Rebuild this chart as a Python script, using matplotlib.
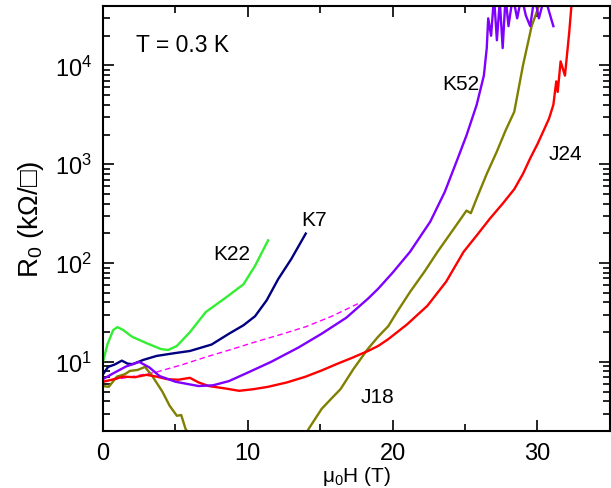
import numpy as np
import matplotlib
matplotlib.use("Agg")
import matplotlib.pyplot as plt
from matplotlib.ticker import LogLocator, MultipleLocator, NullFormatter

plt.rcParams['font.family'] = ['Liberation Sans', 'DejaVu Sans']
plt.rcParams['mathtext.fontset'] = 'custom'
plt.rcParams['mathtext.rm'] = 'Liberation Sans'
plt.rcParams['mathtext.it'] = 'Liberation Sans'

# sample K22 (green)
k22_h = [0.0, 0.3, 0.7, 1.0, 1.4, 2.0, 3.0, 4.0, 4.5, 5.1, 6.0, 7.1, 8.5, 9.7, 10.5, 11.4]
k22_r = [10.0, 15.0, 21.0, 22.5, 21.0, 18.0, 15.5, 13.5, 13.2, 14.5, 20.0, 32.0, 45.0, 61.0, 94.0, 170.0]

# sample K7 (navy)
k7_h = [0.0, 0.35, 0.8, 1.3, 1.7, 2.05, 2.8, 3.7, 5.0, 6.0, 7.5, 8.7, 9.7, 10.5, 11.3, 12.1, 13.0, 14.0]
k7_r = [7.5, 8.9, 9.4, 10.3, 9.6, 9.5, 10.5, 11.5, 12.3, 12.9, 15.0, 19.3, 23.5, 29.0, 42.0, 69.0, 110.0, 199.0]

# sample K52 (violet)
k52_h = [0.0, 0.8, 1.6, 2.5, 3.2, 3.9, 5.0, 6.6, 7.6, 8.7, 10.0, 11.6, 13.5, 15.1, 16.8, 18.3, 19.0,
         20.0, 21.2, 22.6, 23.6, 24.5, 25.1, 25.8, 26.3, 26.5,
         26.6, 26.8, 27.0, 27.2, 27.4, 27.6, 27.8, 28.0, 28.3, 28.6, 28.9, 29.2, 29.5, 29.8, 30.1, 30.5, 31.0, 31.1]
k52_r = [6.7, 7.8, 9.0, 10.0, 8.8, 7.2, 6.3, 5.7, 5.8, 6.4, 7.8, 10.0, 14.0, 19.3, 28.0, 43.7, 55.0,
         80.0, 130.0, 263.0, 525.0, 1150.0, 1960.0, 3980.0, 7900.0, 15000.0,
         30000.0, 20000.0, 50000.0, 18000.0, 45000.0, 15000.0, 50000.0, 25000.0, 50000.0, 30000.0, 50000.0,
         32000.0, 25000.0, 50000.0, 30000.0, 50000.0, 28000.0, 25000.0]

# sample J18 (olive), low-field part
j18a_h = [0.0, 0.4, 0.96, 1.5, 1.85, 2.4, 2.9, 3.4, 4.1, 4.6, 5.1, 5.4, 5.7, 6.0]
j18a_r = [5.7, 5.6, 7.1, 7.5, 8.1, 8.3, 8.9, 7.2, 5.0, 3.6, 2.85, 2.9, 2.1, 1.8]

# sample J18 (olive), high-field part
j18b_h = [14.0, 14.2, 15.1, 15.8, 16.4, 17.3, 18.3, 19.0, 19.7, 20.3, 21.2, 22.2, 23.1, 24.0, 24.7, 25.1,
          25.4, 25.8, 26.5, 27.2, 27.8, 28.4, 29.0, 29.6, 30.1, 30.4]
j18b_r = [1.8, 2.1, 3.35, 4.3, 5.3, 8.5, 13.6, 18.0, 23.0, 32.0, 51.0, 82.0, 130.0, 200.0, 280.0, 340.0,
          320.0, 450.0, 800.0, 1350.0, 2200.0, 3400.0, 10000.0, 25000.0, 40000.0, 50000.0]

# sample J24 (red)
j24_h = [0.0, 0.6, 1.4, 2.2, 3.0, 3.7, 4.4, 5.2, 6.0, 6.6, 7.3, 8.4, 9.4, 10.4, 11.4, 12.7, 14.0, 15.1, 16.2,
         17.2, 18.3, 19.0, 19.7, 21.0, 22.4, 23.7, 24.9, 25.8, 26.7, 27.6, 28.4, 29.0, 29.5, 30.0, 30.4,
         30.8, 31.1, 31.3, 31.4, 31.6, 31.9, 32.2, 32.4]
j24_r = [6.3, 6.6, 7.1, 7.0, 7.4, 7.1, 6.7, 6.6, 6.9, 6.2, 5.7, 5.4, 5.1, 5.3, 5.6, 6.2, 7.1, 8.2, 9.6,
         11.0, 12.9, 14.5, 17.0, 24.0, 37.0, 65.0, 130.0, 190.0, 280.0, 400.0, 560.0, 800.0, 1150.0, 1600.0, 2150.0,
         2900.0, 4000.0, 6900.0, 5400.0, 11000.0, 7900.0, 22000.0, 50000.0]

# dashed guide (magenta)
fit_h = [0.0, 2.0, 3.7, 5.5, 7.1, 8.8, 10.5, 12.3, 14.0, 15.8, 17.6]
fit_r = [6.3, 7.1, 7.9, 9.4, 11.2, 13.3, 15.9, 19.0, 22.7, 29.0, 38.8]

fig = plt.figure(figsize=(6.11, 4.89), dpi=100)
ax = fig.add_axes([0.1686, 0.1166, 0.8295, 0.8691])

lw = 1.7
ax.plot(fit_h, fit_r, color='#ff00ff', lw=1.0, ls=(0, (4, 2.5)))
ax.plot(k22_h, k22_r, color='#33ee33', lw=lw)
ax.plot(k7_h, k7_r, color='#000080', lw=lw)
ax.plot(j18a_h, j18a_r, color='#808000', lw=lw)
ax.plot(j18b_h, j18b_r, color='#808000', lw=lw)
ax.plot(j24_h, j24_r, color='#ff0000', lw=lw)
ax.plot(k52_h, k52_r, color='#8000ff', lw=lw)

ax.set_yscale('log')
ax.set_xlim(0, 35)
ax.set_ylim(2, 4e4)

ax.xaxis.set_major_locator(MultipleLocator(10))
ax.xaxis.set_minor_locator(MultipleLocator(5))
ax.yaxis.set_minor_locator(LogLocator(base=10, subs=np.arange(2, 10), numticks=20))
ax.yaxis.set_minor_formatter(NullFormatter())
ax.set_yticks([10, 100, 1000, 10000])
ax.set_yticklabels([r'$10^1$', r'$10^2$', r'$10^3$', r'$10^4$'])

ax.tick_params(which='both', direction='in', top=True, right=True, labelsize=17, width=1.2)
ax.tick_params(which='major', length=8, pad=8)
ax.tick_params(which='minor', length=5)
for s in ax.spines.values():
    s.set_linewidth(1.5)

ax.set_ylabel('R$_0$ (kΩ/□)', fontsize=20, labelpad=6)
ax.set_xlabel('μ$_0$H (T)', fontsize=15, labelpad=0)

ax.text(2.25, 1.63e4, 'T = 0.3 K', fontsize=16.5, va='center')
ax.text(7.6, 125, 'K22', fontsize=15, va='center')
ax.text(13.7, 275, 'K7', fontsize=15, va='center')
ax.text(23.4, 6500, 'K52', fontsize=15, va='center')
ax.text(30.8, 1300, 'J24', fontsize=15, va='center')
ax.text(17.8, 4.5, 'J18', fontsize=15, va='center')

fig.savefig('out.png', dpi=100)
